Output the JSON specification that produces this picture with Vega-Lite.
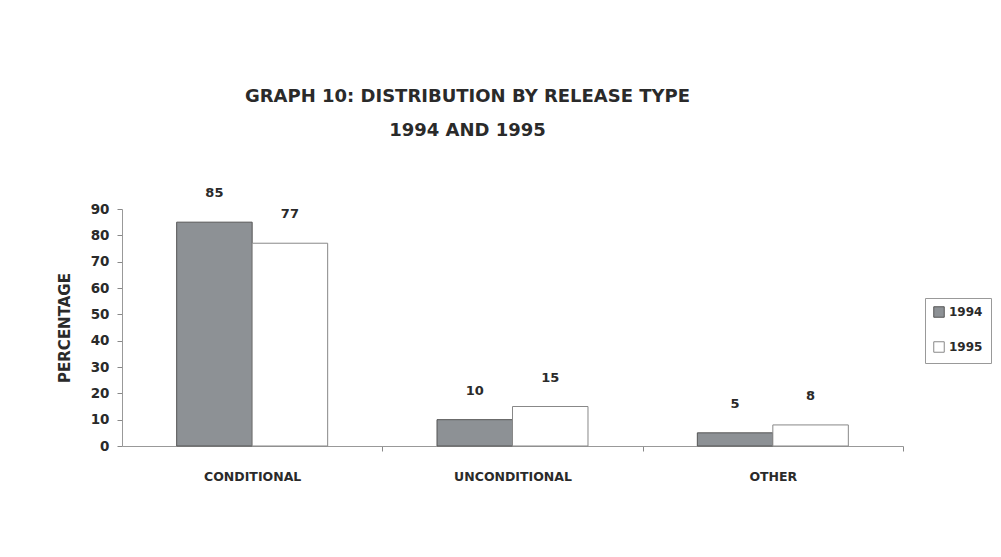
{
  "$schema": "https://vega.github.io/schema/vega-lite/v6.json",
  "width": 781,
  "height": 237,
  "autosize": {"type": "none"},
  "padding": {"left": 122, "top": 209, "right": 98, "bottom": 111},
  "background": "white",
  "config": {
    "view": {"stroke": null},
    "font": "DejaVu Sans"
  },
  "title": {
    "text": "GRAPH 10: DISTRIBUTION BY RELEASE TYPE",
    "subtitle": "1994 AND 1995",
    "anchor": "middle",
    "frame": "group",
    "dx": -45,
    "offset": 47,
    "fontSize": 18,
    "fontWeight": "bold",
    "font": "DejaVu Sans",
    "color": "#2a2a2a",
    "subtitleFont": "DejaVu Sans",
    "subtitleFontSize": 18,
    "subtitleFontWeight": "bold",
    "subtitleColor": "#2a2a2a",
    "subtitlePadding": 16
  },
  "data": {
    "values": [
      {"type": "CONDITIONAL", "year": "1994", "pct": 85},
      {"type": "CONDITIONAL", "year": "1995", "pct": 77},
      {"type": "UNCONDITIONAL", "year": "1994", "pct": 10},
      {"type": "UNCONDITIONAL", "year": "1995", "pct": 15},
      {"type": "OTHER", "year": "1994", "pct": 5},
      {"type": "OTHER", "year": "1995", "pct": 8}
    ]
  },
  "encoding": {
    "x": {
      "field": "type",
      "type": "nominal",
      "sort": ["CONDITIONAL", "UNCONDITIONAL", "OTHER"],
      "scale": {"paddingInner": 0.42, "paddingOuter": 0.21},
      "axis": {
        "title": null,
        "labelAngle": 0,
        "labelFont": "DejaVu Sans",
        "labelFontSize": 12.5,
        "labelFontWeight": "bold",
        "labelColor": "#2a2a2a",
        "labelPadding": 19,
        "bandPosition": 1,
        "tickOffset": 54.67,
        "labelOffset": -54.67,
        "tickSize": 5,
        "tickColor": "#888",
        "domainColor": "#999"
      }
    },
    "xOffset": {
      "field": "year",
      "type": "nominal",
      "scale": {"paddingInner": 0, "paddingOuter": 0}
    },
    "y": {
      "field": "pct",
      "type": "quantitative",
      "scale": {"domain": [0, 90], "nice": false},
      "axis": {
        "title": "PERCENTAGE",
        "titleFont": "DejaVu Sans",
        "titleFontSize": 15,
        "titleFontWeight": "bold",
        "titleColor": "#2a2a2a",
        "titlePadding": 18,
        "values": [0, 10, 20, 30, 40, 50, 60, 70, 80, 90],
        "grid": false,
        "labelFont": "DejaVu Sans",
        "labelFontSize": 13.5,
        "labelFontWeight": "bold",
        "labelColor": "#2a2a2a",
        "labelPadding": 8,
        "tickSize": 5,
        "tickColor": "#888",
        "domainColor": "#999"
      }
    }
  },
  "layer": [
    {
      "mark": {"type": "bar", "strokeWidth": 1},
      "encoding": {
        "color": {
          "field": "year",
          "type": "nominal",
          "scale": {"domain": ["1994", "1995"], "range": ["#8d9195", "#ffffff"]},
          "legend": {
            "title": null,
            "orient": "none",
            "legendX": 803,
            "legendY": 89,
            "padding": 8,
            "strokeColor": "#999",
            "symbolType": "square",
            "symbolSize": 110,
            "symbolStrokeWidth": 1,
            "rowPadding": 19,
            "labelFont": "DejaVu Sans",
            "labelFontSize": 12,
            "labelFontWeight": "bold",
            "labelColor": "#2a2a2a",
            "labelOffset": 4
          }
        },
        "stroke": {
          "field": "year",
          "type": "nominal",
          "scale": {"domain": ["1994", "1995"], "range": ["#555555", "#888888"]},
          "legend": {
            "title": null,
            "orient": "none",
            "legendX": 803,
            "legendY": 89,
            "padding": 8,
            "strokeColor": "#999",
            "symbolType": "square",
            "symbolSize": 110,
            "symbolStrokeWidth": 1,
            "rowPadding": 19,
            "labelFont": "DejaVu Sans",
            "labelFontSize": 12,
            "labelFontWeight": "bold",
            "labelColor": "#2a2a2a",
            "labelOffset": 4
          }
        }
      }
    },
    {
      "mark": {
        "type": "text",
        "baseline": "alphabetic",
        "dy": -25,
        "font": "DejaVu Sans",
        "fontSize": 13,
        "fontWeight": "bold",
        "color": "#2a2a2a"
      },
      "encoding": {
        "text": {"field": "pct", "type": "quantitative"}
      }
    }
  ]
}
